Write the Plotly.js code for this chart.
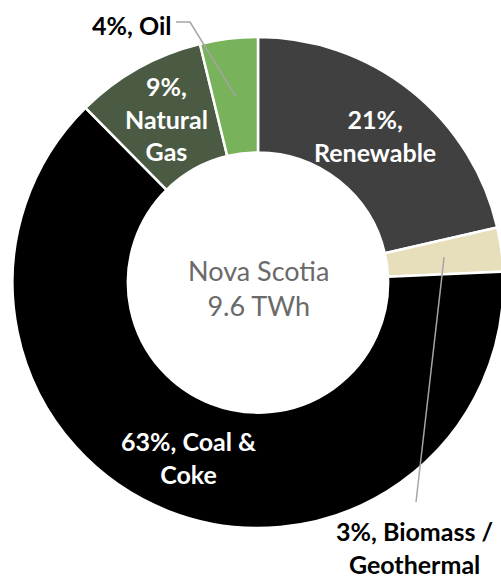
<!DOCTYPE html>
<html><head><meta charset="utf-8">
<script src="https://cdn.plot.ly/plotly-3.0.1.min.js"></script>
<style>html,body{margin:0;padding:0;overflow:hidden;background:#fff}#chart{width:520px;height:577px}</style>
</head><body><div id="chart"></div>
<script>
// ---- data ----
const labels = ['Renewable', 'Biomass / Geothermal', 'Coal & Coke', 'Natural Gas', 'Oil'];
const values = [21.4, 2.9, 63.3, 8.6, 3.8];
const colors = ['#404040', '#E7DFBC', '#000000', '#4B5A43', '#78B35C'];
const labelFormats = ['{p},<br>Renewable', '{p}, Biomass /<br>Geothermal', '{p}, Coal &<br>Coke', '{p},<br>Natural<br>Gas', '{p}, Oil'];
const centerTitle = 'Nova Scotia';
const centerValue = '9.6 TWh';

// ---- layout geometry ----
const W = 520, H = 577;
const cx = 258, cy = 282.5, R = 245.5, hole = 0.53;
const px = x => x / W, py = y => 1 - y / H;

const total = values.reduce((a, b) => a + b, 0);
let cum = 0;
const mids = values.map(v => { const m = (cum + v / 2) / total; cum += v; return m * 2 * Math.PI; });
const rMid = R * (1 + hole) / 2;
const pos = mids.map(a => [cx + rMid * Math.sin(a), cy - rMid * Math.cos(a)]);
const texts = values.map((v, i) => labelFormats[i].replace('{p}', Math.round(v / total * 100) + '%'));

const annotations = [];
const shapes = [];
const font = 'Lato, "Open Sans", sans-serif';
// inside labels (Renewable, Coal, Gas)
[0, 2, 3].forEach(i => {
  annotations.push({x: px(pos[i][0]), y: py(pos[i][1]), xref: 'paper', yref: 'paper', text: texts[i],
    showarrow: false, xanchor: 'center', yanchor: 'middle',
    font: {family: font, size: 25, color: '#ffffff', weight: 'bold'}});
});
// Oil outside label
annotations.push({x: px(173), y: py(25), xref: 'paper', yref: 'paper', text: texts[4], showarrow: false,
  xanchor: 'right', yanchor: 'middle', font: {family: font, size: 25, color: '#000000', weight: 'bold'}});
shapes.push({type: 'path', xref: 'paper', yref: 'paper',
  path: `M ${px(176)} ${py(22)} L ${px(190)} ${py(22)} L ${px(pos[4][0])} ${py(pos[4][1])}`,
  line: {color: '#A5A5A5', width: 1.5}});
// Biomass outside label
annotations.push({x: px(414), y: py(547), xref: 'paper', yref: 'paper', text: texts[1], showarrow: false,
  xanchor: 'center', yanchor: 'middle', font: {family: font, size: 25, color: '#000000', weight: 'bold'}});
shapes.push({type: 'path', xref: 'paper', yref: 'paper',
  path: `M ${px(pos[1][0])} ${py(pos[1][1])} L ${px(416)} ${py(502)}`,
  line: {color: '#A5A5A5', width: 1.5}});
// center text
annotations.push({x: px(cx), y: py(288), xref: 'paper', yref: 'paper', text: centerTitle + '<br>' + centerValue,
  showarrow: false, xanchor: 'center', yanchor: 'middle',
  font: {family: font, size: 27, color: '#6A6A6A'}});

const trace = {
  type: 'pie', labels: labels, values: values, sort: false, direction: 'clockwise', rotation: 0,
  hole: hole, textinfo: 'none', hoverinfo: 'label+percent',
  marker: {colors: colors, line: {color: '#ffffff', width: 2.5}},
  domain: {x: [px(cx - R), px(cx + R)], y: [py(cy + R), py(cy - R)]}
};

Plotly.newPlot('chart', [trace], {
  width: W, height: H, margin: {l: 0, r: 0, t: 0, b: 0}, showlegend: false,
  paper_bgcolor: '#ffffff', annotations: annotations, shapes: shapes
}, {displayModeBar: false, staticPlot: true});
</script></body></html>
